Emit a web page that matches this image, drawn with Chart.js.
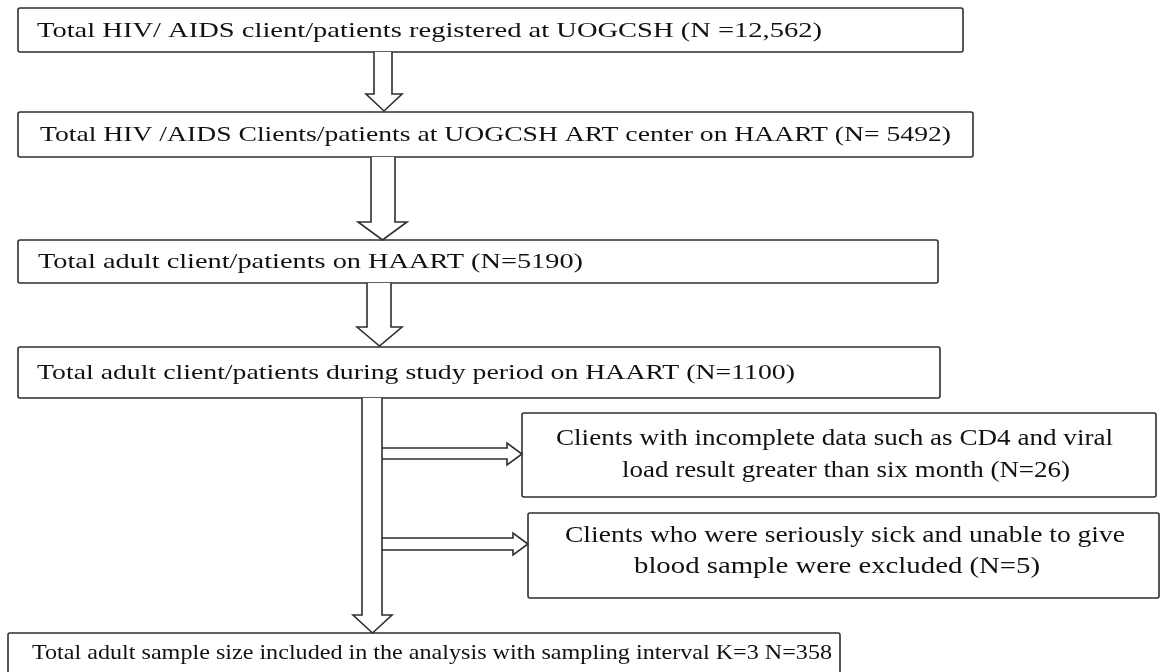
<!DOCTYPE html>
<html>
<head>
<meta charset="utf-8">
<script src="https://cdn.jsdelivr.net/npm/chart.js@4/dist/chart.umd.min.js"></script>
<style>
  body { margin: 0; background: #fff; }
  canvas { display: block; }
</style>
</head>
<body>
<canvas id="flow" width="1163" height="672"></canvas>
<script>
// texts of the flow diagram
const mainSteps = [
    'Total HIV/ AIDS client/patients registered at UOGCSH (N =12,562)',
    'Total HIV /AIDS Clients/patients at UOGCSH ART center on HAART (N= 5492)',
    'Total adult client/patients on HAART (N=5190)',
    'Total adult client/patients during study period on HAART (N=1100)',
    'Total adult sample size included in the analysis with sampling interval K=3 N=358'
];
const excludedLine1 = [
    'Clients with incomplete data such as CD4 and viral',
    'Clients who were seriously sick and unable to give'
];
const excludedLine2 = [
    'load result greater than six month (N=26)',
    'blood sample were excluded (N=5)'
];

// layout in axis units (same as pixels here)
const mainBoxes = [
    [18, 963, 8, 52],
    [18, 973, 112, 157],
    [18, 938, 240, 283],
    [18, 940, 347, 398],
    [8, 840, 633, 690]
];
// text start / end x and middle y per main box
const mainTextSpan = [
    [37, 822, 31],
    [40, 951, 135],
    [38, 583, 262],
    [37, 795, 373],
    [32, 832, 653]
];
const sideBoxes = [
    [522, 1156, 413, 497],
    [528, 1159, 513, 598]
];
// [start, end, y] per text line in the side boxes
const sideTextSpan = [
    [[556, 1113, 439], [622, 1070, 471]],
    [[565, 1125, 536], [634, 1040, 567]]
];
// x0, x1 shaft, hx0, hx1 head, y0 start, yh head start, tip
const downArrows = [
    [374, 392, 366, 402, 52, 94, 111],
    [371, 395, 358, 407, 157, 222, 240],
    [367, 391, 357, 402, 283, 327, 346],
    [362, 382, 353, 392, 398, 615, 633]
];
// y0, y1 shaft, hy0, hy1 head, x0 start, xh head start, tip
const sideArrows = [
    [448, 459, 443, 465, 382, 507, 522],
    [538, 550, 533, 555, 382, 513, 528]
];

const FONT = '"Liberation Serif", "DejaVu Serif", serif';

function fitText(ctx, text, x0, x1, y) {
    const w = ctx.measureText(text).width;
    ctx.save();
    ctx.translate(x0, y);
    ctx.scale((x1 - x0) / w, 1);
    ctx.textAlign = 'left';
    ctx.fillText(text, 0, 0);
    ctx.restore();
}

const flowPlugin = {
    id: 'flow',
    afterDatasetsDraw(chart) {
        const ctx = chart.ctx;
        const sx = chart.scales.x;
        const sy = chart.scales.y;
        const px = v => sx.getPixelForValue(v);
        const py = v => sy.getPixelForValue(v);

        ctx.save();
        ctx.strokeStyle = '#2e2e2e';
        ctx.lineWidth = 1.6;

        // boxes
        [...mainBoxes, ...sideBoxes].forEach(b => {
            ctx.beginPath();
            ctx.roundRect(px(b[0]), py(b[2]), px(b[1]) - px(b[0]), py(b[3]) - py(b[2]), 2);
            ctx.fillStyle = '#fff';
            ctx.fill();
            ctx.stroke();
        });

        // hollow down arrows
        downArrows.forEach(a => {
            const cx = (a[2] + a[3]) / 2;
            ctx.beginPath();
            ctx.moveTo(px(a[0]), py(a[4]));
            ctx.lineTo(px(a[0]), py(a[5]));
            ctx.lineTo(px(a[2]), py(a[5]));
            ctx.lineTo(px(cx), py(a[6]));
            ctx.lineTo(px(a[3]), py(a[5]));
            ctx.lineTo(px(a[1]), py(a[5]));
            ctx.lineTo(px(a[1]), py(a[4]));
            ctx.fillStyle = '#fff';
            ctx.fill();
            ctx.stroke();
        });

        // hollow side arrows
        sideArrows.forEach(a => {
            const cy = (a[2] + a[3]) / 2;
            ctx.beginPath();
            ctx.moveTo(px(a[4]), py(a[0]));
            ctx.lineTo(px(a[5]), py(a[0]));
            ctx.lineTo(px(a[5]), py(a[2]));
            ctx.lineTo(px(a[6]), py(cy));
            ctx.lineTo(px(a[5]), py(a[3]));
            ctx.lineTo(px(a[5]), py(a[1]));
            ctx.lineTo(px(a[4]), py(a[1]));
            ctx.stroke();
        });

        // texts, each squeezed to the width it has in the scan
        ctx.fillStyle = '#111';
        ctx.textBaseline = 'middle';
        ctx.font = '22px ' + FONT;
        mainSteps.forEach((t, i) => {
            const s = mainTextSpan[i];
            fitText(ctx, t, px(s[0]), px(s[1]), py(s[2]));
        });

        ctx.font = '23px ' + FONT;
        sideBoxes.forEach((b, i) => {
            [excludedLine1[i], excludedLine2[i]].forEach((t, j) => {
                const s = sideTextSpan[i][j];
                fitText(ctx, t, px(s[0]), px(s[1]), py(s[2]));
            });
        });
        ctx.restore();
    }
};

new Chart(document.getElementById('flow'), {
    type: 'scatter',
    data: { datasets: [{ data: [], pointRadius: 0 }] },
    options: {
        responsive: false,
        animation: false,
        layout: { padding: 0 },
        plugins: { legend: { display: false }, tooltip: { enabled: false } },
        scales: {
            x: { type: 'linear', min: 0, max: 1163, display: false },
            y: { type: 'linear', min: 0, max: 672, reverse: true, display: false }
        }
    },
    plugins: [flowPlugin]
});
</script>
</body>
</html>
